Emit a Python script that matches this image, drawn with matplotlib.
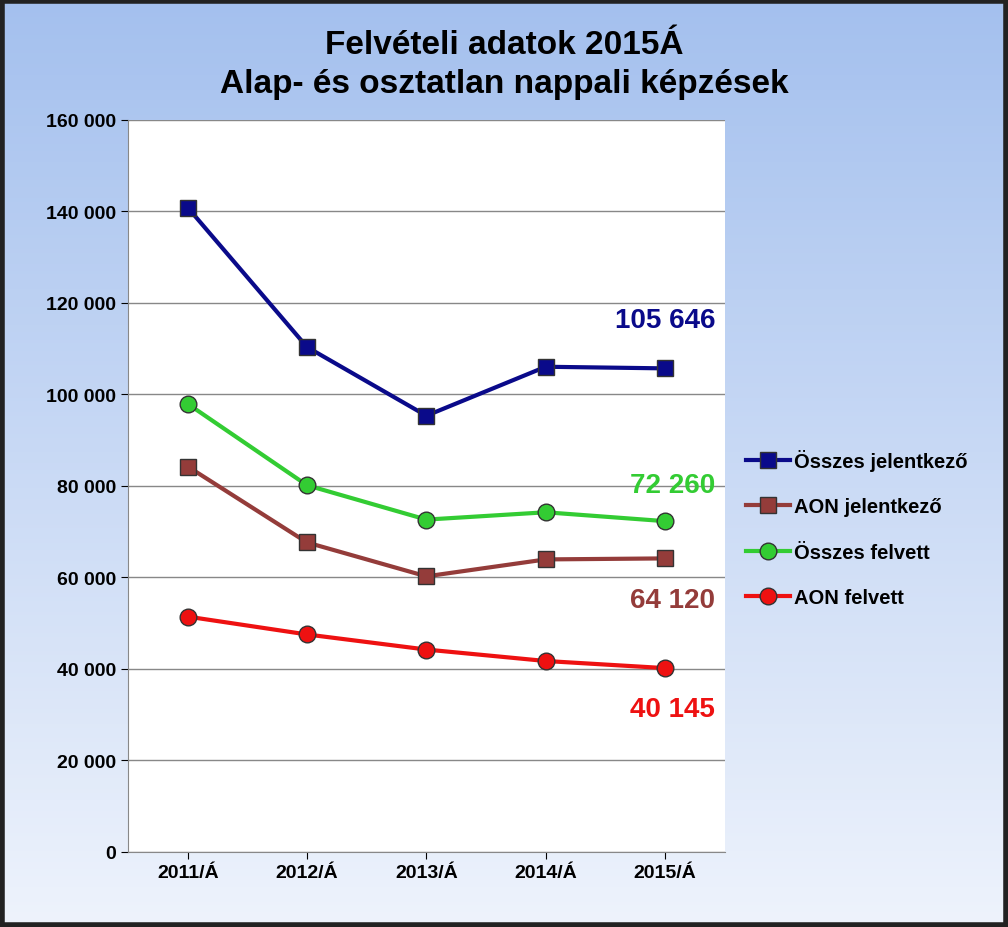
import matplotlib
matplotlib.use("Agg")
import matplotlib.pyplot as plt
import numpy as np
from matplotlib.ticker import FuncFormatter
from matplotlib.colors import LinearSegmentedColormap

years = ["2011/Á", "2012/Á", "2013/Á", "2014/Á", "2015/Á"]
osszes_jel = [140800, 110300, 95300, 106000, 105646]
aon_jel = [84200, 67600, 60200, 63900, 64120]
osszes_felv = [97900, 80100, 72600, 74200, 72260]
aon_felv = [51400, 47500, 44200, 41700, 40145]

plt.rcParams['font.family'] = ['Liberation Sans', 'DejaVu Sans']
plt.rcParams['font.weight'] = 'bold'

fig = plt.figure(figsize=(10.08, 9.28), dpi=100)
bg = fig.add_axes([0, 0, 1, 1], zorder=-10)
grad = np.linspace(0, 1, 256).reshape(-1, 1)
cmap = LinearSegmentedColormap.from_list("g", ["#a4c0ee", "#eef3fc"])
bg.imshow(grad, aspect='auto', cmap=cmap, extent=[0, 1, 0, 1])
bg.set_xlim(0, 1); bg.set_ylim(0, 1)
bg.axis('off')
bg.add_patch(plt.Rectangle((0.002, 0.002), 0.996, 0.996, fill=False, edgecolor='#222222', lw=4, transform=bg.transAxes))

ax = fig.add_axes([0.127, 0.081, 0.592, 0.789])
x = np.arange(len(years))
series = [
    ("Összes jelentkező", osszes_jel, "#0a0a8a", "s"),
    ("AON jelentkező", aon_jel, "#943c3a", "s"),
    ("Összes felvett", osszes_felv, "#33cc33", "o"),
    ("AON felvett", aon_felv, "#ee1111", "o"),
]
for name, vals, c, m in series:
    ax.plot(x, vals, color=c, lw=3, marker=m, markersize=12, markeredgecolor='#333333',
            markeredgewidth=1, label=name)

ax.set_xlim(-0.5, 4.5)
ax.set_ylim(0, 160000)
ax.set_yticks(np.arange(0, 160001, 20000))
ax.yaxis.set_major_formatter(FuncFormatter(lambda v, p: f"{int(v):,}".replace(",", " ")))
ax.set_xticks(x)
ax.set_xticklabels(years)
ax.tick_params(labelsize=14, length=5, direction='out')
ax.grid(axis='y', color='#888888', lw=1)
ax.set_axisbelow(True)
for s in ['top', 'right']:
    ax.spines[s].set_visible(False)
ax.spines['left'].set_color('#888888')
ax.spines['bottom'].set_color('#888888')

lbls = [(osszes_jel, "#0a0a8a", 10500), (osszes_felv, "#33cc33", 7800),
        (aon_jel, "#943c3a", -9000), (aon_felv, "#ee1111", -9000)]
for vals, c, off in lbls:
    ax.text(4.42, vals[-1] + off, f"{vals[-1]:,}".replace(",", " "), color=c,
            fontsize=20, fontweight='bold', ha='right', va='center')

fig.text(0.5, 0.93, "Felvételi adatok 2015Á\nAlap- és osztatlan nappali képzések",
         ha='center', va='center', fontsize=24, fontweight='bold', linespacing=1.3)

fig.legend(loc='center left', bbox_to_anchor=(0.722, 0.43), frameon=False,
           fontsize=14.5, handlelength=2.2, labelspacing=1.3, handletextpad=0.2)

fig.savefig("out.png", dpi=100)
